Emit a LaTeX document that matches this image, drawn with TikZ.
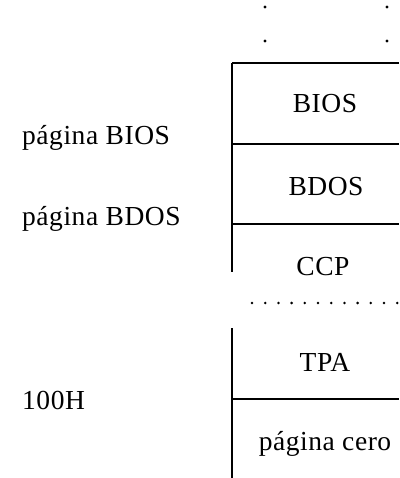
\documentclass[tikz,border=0pt]{standalone}
\usepackage{fontspec}
\setmainfont[LetterSpace=2]{Liberation Serif}
\begin{document}
\begin{tikzpicture}[x=1pt,y=-1pt,
  rule/.style={line width=1.3pt,black},
  boxtxt/.style={anchor=base,inner sep=0pt,font=\fontsize{27.5}{30}\selectfont},
  sidetxt/.style={anchor=base west,inner sep=0pt,font=\fontsize{27.5}{30}\selectfont},
  dotmark/.style={fill=black,draw=none}]
\useasboundingbox (0,0) rectangle (399,478);
% corner coordinates
\coordinate (tl) at (232,63);  \coordinate (tr) at (399,63);
\coordinate (l1) at (232,144); \coordinate (r1) at (399,144);
\coordinate (l2) at (232,224); \coordinate (r2) at (399,224);
\coordinate (le) at (232,272);
\coordinate (ls) at (232,328);
\coordinate (l3) at (232,399); \coordinate (r3) at (399,399);
\coordinate (lb) at (232,478);
% lines
\draw[rule] (tl) -- (tr);
\draw[rule] (l1) -- (r1);
\draw[rule] (l2) -- (r2);
\draw[rule] (l3) -- (r3);
\draw[rule] (tl) -- (le);
\draw[rule] (ls) -- (lb);
% top dots
\foreach \x in {265,387} \foreach \y in {7,41} \fill[dotmark] (\x,\y) circle (1.6);
% dotted row
\foreach \i in {0,...,11} \fill[dotmark] (252+13.2*\i,303) circle (1.4);
% box texts
\node[boxtxt] (bios) at (325,113) {BIOS};
\node[boxtxt] (bdos) at (326,195) {BDOS};
\node[boxtxt] (ccp) at (323,275) {CCP};
\node[boxtxt] (tpa) at (325,371) {TPA};
\node[boxtxt] (cero) at (325,450) {página cero};
% side labels
\node[sidetxt] (pbios) at (22,145) {página BIOS};
\node[sidetxt] (pbdos) at (22,225) {página BDOS};
\node[sidetxt] (hundred) at (22,409) {100H};
\end{tikzpicture}
\end{document}
